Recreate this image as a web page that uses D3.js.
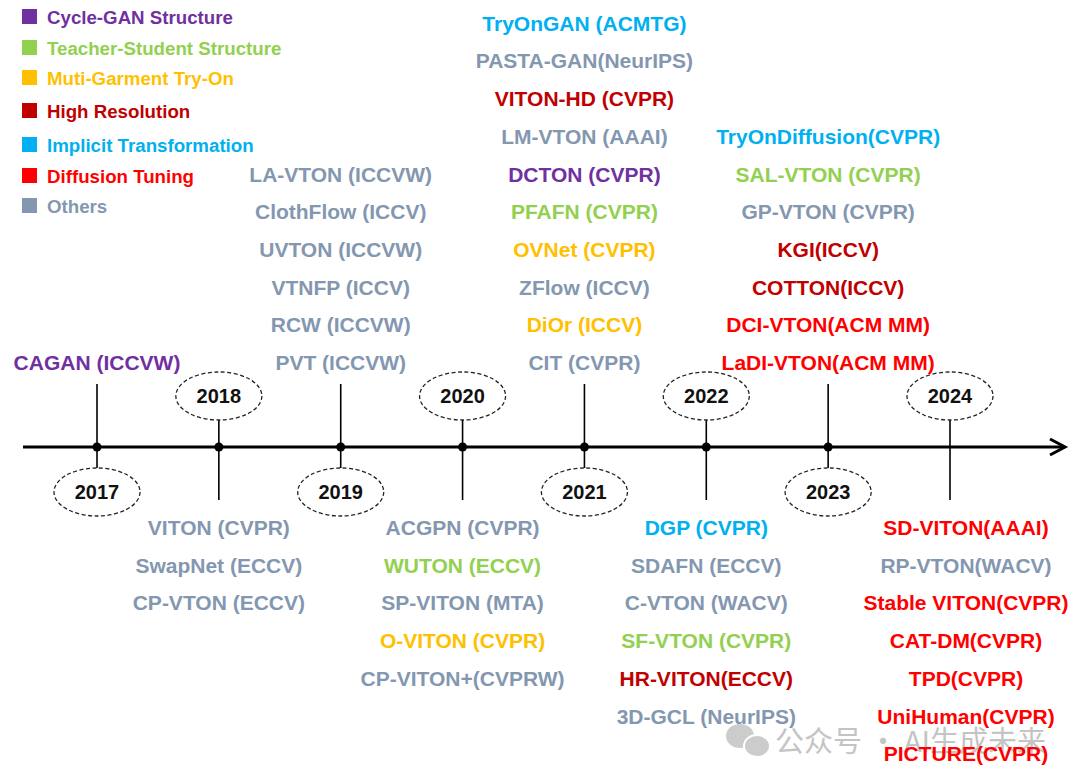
<!DOCTYPE html>
<html>
<head>
<meta charset="utf-8">
<script src="https://cdn.jsdelivr.net/npm/d3@7"></script>
<style>
  body { margin: 0; background: #fff; }
  svg { display: block; font-family: "Liberation Sans", Arial, sans-serif; font-weight: bold; }
</style>
</head>
<body>
<svg id="chart" width="1080" height="784"></svg>
<script>
// categories (legend)
const categories = ["Cycle-GAN Structure", "Teacher-Student Structure", "Muti-Garment Try-On",
  "High Resolution", "Implicit Transformation", "Diffusion Tuning", "Others"];
const catColors = ["#7030A0", "#92D050", "#FFC000", "#C00000", "#00B0F0", "#FF0000", "#8497B0"];

const years = [2017, 2018, 2019, 2020, 2021, 2022, 2023, 2024];

// methods per year, [name, category index]
const methods2017 = [["CAGAN (ICCVW)", 0]];
const methods2018 = [["VITON (CVPR)", 6], ["SwapNet (ECCV)", 6], ["CP-VTON (ECCV)", 6]];
const methods2019 = [["LA-VTON (ICCVW)", 6], ["ClothFlow (ICCV)", 6], ["UVTON (ICCVW)", 6],
  ["VTNFP (ICCV)", 6], ["RCW (ICCVW)", 6], ["PVT (ICCVW)", 6]];
const methods2020 = [["ACGPN (CVPR)", 6], ["WUTON (ECCV)", 1], ["SP-VITON (MTA)", 6],
  ["O-VITON (CVPR)", 2], ["CP-VITON+(CVPRW)", 6]];
const methods2021 = [["TryOnGAN (ACMTG)", 4], ["PASTA-GAN(NeurIPS)", 6], ["VITON-HD (CVPR)", 3],
  ["LM-VTON (AAAI)", 6], ["DCTON (CVPR)", 0], ["PFAFN (CVPR)", 1], ["OVNet (CVPR)", 2],
  ["ZFlow (ICCV)", 6], ["DiOr (ICCV)", 2], ["CIT (CVPR)", 6]];
const methods2022 = [["DGP (CVPR)", 4], ["SDAFN (ECCV)", 6], ["C-VTON (WACV)", 6],
  ["SF-VTON (CVPR)", 1], ["HR-VITON(ECCV)", 3], ["3D-GCL (NeurIPS)", 6]];
const methods2023 = [["TryOnDiffusion(CVPR)", 4], ["SAL-VTON (CVPR)", 1], ["GP-VTON (CVPR)", 6],
  ["KGI(ICCV)", 3], ["COTTON(ICCV)", 3], ["DCI-VTON(ACM MM)", 5], ["LaDI-VTON(ACM MM)", 5]];
const methods2024 = [["SD-VITON(AAAI)", 5], ["RP-VTON(WACV)", 6], ["Stable VITON(CVPR)", 5],
  ["CAT-DM(CVPR)", 5], ["TPD(CVPR)", 5], ["UniHuman(CVPR)", 5], ["PICTURE(CVPR)", 5]];

const methodsByYear = [methods2017, methods2018, methods2019, methods2020,
  methods2021, methods2022, methods2023, methods2024];

const svg = d3.select("#chart");
const axisY = 447;
const lineH = 37.7;

const x = d3.scaleLinear().domain([2017, 2024]).range([97, 950]);
const color = d3.scaleOrdinal().domain(d3.range(categories.length)).range(catColors);

// watermark
const wm = svg.append("g").attr("opacity", 0.5);
wm.append("ellipse").attr("cx", 740).attr("cy", 736).attr("rx", 14).attr("ry", 12).attr("fill", "#9a9a9a");
wm.append("ellipse").attr("cx", 757).attr("cy", 746).attr("rx", 13).attr("ry", 11).attr("fill", "#9a9a9a")
  .attr("stroke", "#fff").attr("stroke-width", 2);
wm.append("text").attr("x", 775).attr("y", 752)
  .attr("font-family", "Noto Sans CJK SC").attr("font-weight", "normal")
  .attr("font-size", 29).attr("fill", "#8a8a8a").text("公众号 · AI生成未来");

// legend
const legend = svg.append("g");
const legendRows = [17, 48, 78, 111, 145, 176, 206];
categories.forEach((c, i) => {
  const g = legend.append("g").attr("transform", `translate(22,${legendRows[i]})`);
  g.append("rect").attr("x", 0).attr("y", -8).attr("width", 15).attr("height", 15).attr("fill", catColors[i]);
  g.append("text").attr("x", 25).attr("y", 6.5).attr("font-size", 18.7).attr("fill", catColors[i]).text(c);
});

// main axis with arrow
svg.append("line").attr("x1", 23).attr("x2", 1064).attr("y1", axisY).attr("y2", axisY)
  .attr("stroke", "#000").attr("stroke-width", 3);
svg.append("path").attr("d", `M1050,${axisY - 8} L1065,${axisY} L1050,${axisY + 8}`)
  .attr("fill", "none").attr("stroke", "#000").attr("stroke-width", 3);

// year markers
years.forEach((yr, i) => {
  const cx = x(yr);
  const up = i % 2 === 0; // labels above, ellipse below
  const g = svg.append("g");
  // stem on label side
  g.append("line").attr("x1", cx).attr("x2", cx)
    .attr("y1", axisY).attr("y2", up ? 384 : 500)
    .attr("stroke", "#000").attr("stroke-width", 1.6);
  // stem to ellipse
  const ey = up ? 492 : 396;
  g.append("line").attr("x1", cx).attr("x2", cx)
    .attr("y1", axisY).attr("y2", up ? ey - 24 : ey + 24)
    .attr("stroke", "#000").attr("stroke-width", 1.6);
  g.append("ellipse").attr("cx", cx).attr("cy", ey).attr("rx", 43).attr("ry", 24)
    .attr("fill", "#fff").attr("stroke", "#222").attr("stroke-width", 1.3)
    .attr("stroke-dasharray", "4,2.5");
  g.append("text").attr("x", cx).attr("y", ey + 7).attr("text-anchor", "middle")
    .attr("font-size", 20).attr("fill", "#111").text(yr);
  if (yr !== 2024) {
    g.append("circle").attr("cx", cx).attr("cy", axisY).attr("r", 4.5).attr("fill", "#000");
  }

  // method labels
  const list = methodsByYear[i];
  const tx = yr === 2024 ? cx + 16 : cx;
  g.selectAll("text.m").data(list).join("text").attr("class", "m")
    .attr("x", tx)
    .attr("y", (d, j) => up ? 370 - (list.length - 1 - j) * lineH : 535 + j * lineH)
    .attr("text-anchor", "middle").attr("font-size", 21)
    .attr("fill", d => color(d[1])).text(d => d[0]);
});
</script>
</body>
</html>
